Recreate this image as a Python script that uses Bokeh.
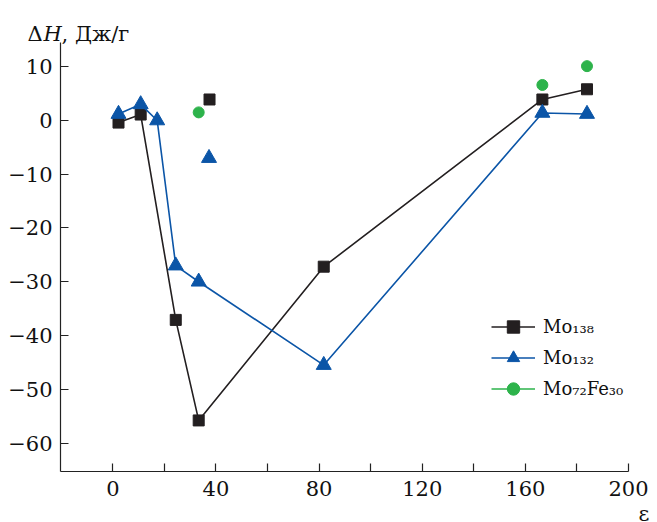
from bokeh.plotting import figure
from bokeh.models import Range1d, FixedTicker, Legend, LegendItem, Label
from bokeh.embed import file_html
from bokeh.resources import INLINE

# ---- data ----
eps_mo138 = [2.2, 10.8, 24.4, 33.3, 81.8, 166.6, 183.9]
dh_mo138 = [-0.4, 1.1, -37.1, -55.8, -27.2, 3.9, 5.8]
eps_mo138_single = [37.5]
dh_mo138_single = [3.9]

eps_mo132 = [2.2, 10.8, 17.2, 24.4, 33.3, 81.8, 166.6, 183.9]
dh_mo132 = [1.2, 3.0, 0.0, -27.0, -30.0, -45.5, 1.4, 1.2]
eps_mo132_single = [37.3]
dh_mo132_single = [-7.0]

eps_mo72fe30 = [33.3, 166.6, 183.9]
dh_mo72fe30 = [1.5, 6.6, 10.1]

series_labels = ["Mo\u2081\u2083\u2088", "Mo\u2081\u2083\u2082", "Mo\u2087\u2082Fe\u2083\u2080"]
x_ticks = [0, 20, 40, 60, 80, 100, 120, 140, 160, 180, 200]
x_tick_labels = ["0", "", "40", "", "80", "", "120", "", "160", "", "200"]
y_ticks = [-60, -50, -40, -30, -20, -10, 0, 10]
y_tick_labels = ["\u221260", "\u221250", "\u221240", "\u221230", "\u221220", "\u221210", "0", "10"]

X_MIN, X_MAX = -20.3, 200
Y_MIN, Y_MAX = -65.3, 14.5

BLACK = "#231f20"
BLUE = "#0b55a7"
GREEN = "#2db34b"
FONT = "DejaVu Serif"

p = figure(width=657, height=522, output_backend="svg", toolbar_location=None,
           x_range=Range1d(X_MIN, X_MAX), y_range=Range1d(Y_MIN, Y_MAX),
           min_border_left=60, min_border_right=26, min_border_top=42, min_border_bottom=51)
p.xgrid.visible = False
p.ygrid.visible = False
p.outline_line_color = None
p.background_fill_color = "white"

for ax in (p.xaxis[0], p.yaxis[0]):
    ax.axis_line_color = "#222222"
    ax.axis_line_width = 1.2
    ax.major_tick_line_color = "#222222"
    ax.major_tick_line_width = 1.2
    ax.major_tick_in = 8
    ax.major_tick_out = 0
    ax.minor_tick_line_color = None
    ax.major_label_text_font = FONT
    ax.major_label_text_font_size = "21px"
    ax.major_label_text_color = "#111111"

p.xaxis.ticker = FixedTicker(ticks=x_ticks)
p.xaxis.major_label_overrides = {t: s for t, s in zip(x_ticks, x_tick_labels)}
p.xaxis.major_label_standoff = 9
p.yaxis.ticker = FixedTicker(ticks=y_ticks)
p.yaxis.major_label_overrides = {t: s for t, s in zip(y_ticks, y_tick_labels)}
p.yaxis.major_label_standoff = 8

l1 = p.line(eps_mo138, dh_mo138, line_color=BLACK, line_width=1.6)
s1 = p.scatter(eps_mo138, dh_mo138, marker="square", size=11, fill_color=BLACK, line_color=BLACK)
p.scatter(eps_mo138_single, dh_mo138_single, marker="square", size=11, fill_color=BLACK, line_color=BLACK)

l2 = p.line(eps_mo132, dh_mo132, line_color=BLUE, line_width=1.6)
s2 = p.scatter(eps_mo132, dh_mo132, marker="triangle", size=15, fill_color=BLUE, line_color=BLUE)
p.scatter(eps_mo132_single, dh_mo132_single, marker="triangle", size=15, fill_color=BLUE, line_color=BLUE)

# legend-only line for the point series
l3 = p.line([float("nan")], [float("nan")], line_color=GREEN, line_width=1.6)
s3 = p.scatter(eps_mo72fe30, dh_mo72fe30, marker="circle", size=11, fill_color=GREEN, line_color=GREEN)

legend = Legend(items=[LegendItem(label=series_labels[0], renderers=[l1, s1]),
                       LegendItem(label=series_labels[1], renderers=[l2, s2]),
                       LegendItem(label=series_labels[2], renderers=[l3, s3])],
                location=(431, 67), padding=0, margin=0, spacing=0,
                glyph_width=44, glyph_height=31, label_height=31, label_standoff=8,
                border_line_color=None, background_fill_alpha=0,
                label_text_font=FONT, label_text_font_size="18px", label_text_color="#111111")
p.add_layout(legend)

# axis titles in side panels (unclipped), positioned through the frame's scales
common = dict(x_units="data", y_units="data", text_font=FONT, text_font_size="21px",
              text_color="#111111", text_baseline="alphabetic", text_align="left")
p.add_layout(Label(x=X_MIN, y=Y_MAX, x_offset=-33, y_offset=9,
                   text="\u0394\u2002\u2009\u2009, \u0414\u0436/\u0433", **common), "above")
p.add_layout(Label(x=X_MIN, y=Y_MAX, x_offset=-17, y_offset=9,
                   text="H", text_font_style="italic", **common), "right")
p.add_layout(Label(x=X_MAX, y=Y_MIN, x_offset=10, y_offset=-42,
                   text="\u03b5", **common), "right")

open("out.html", "w").write(file_html(p, INLINE))
